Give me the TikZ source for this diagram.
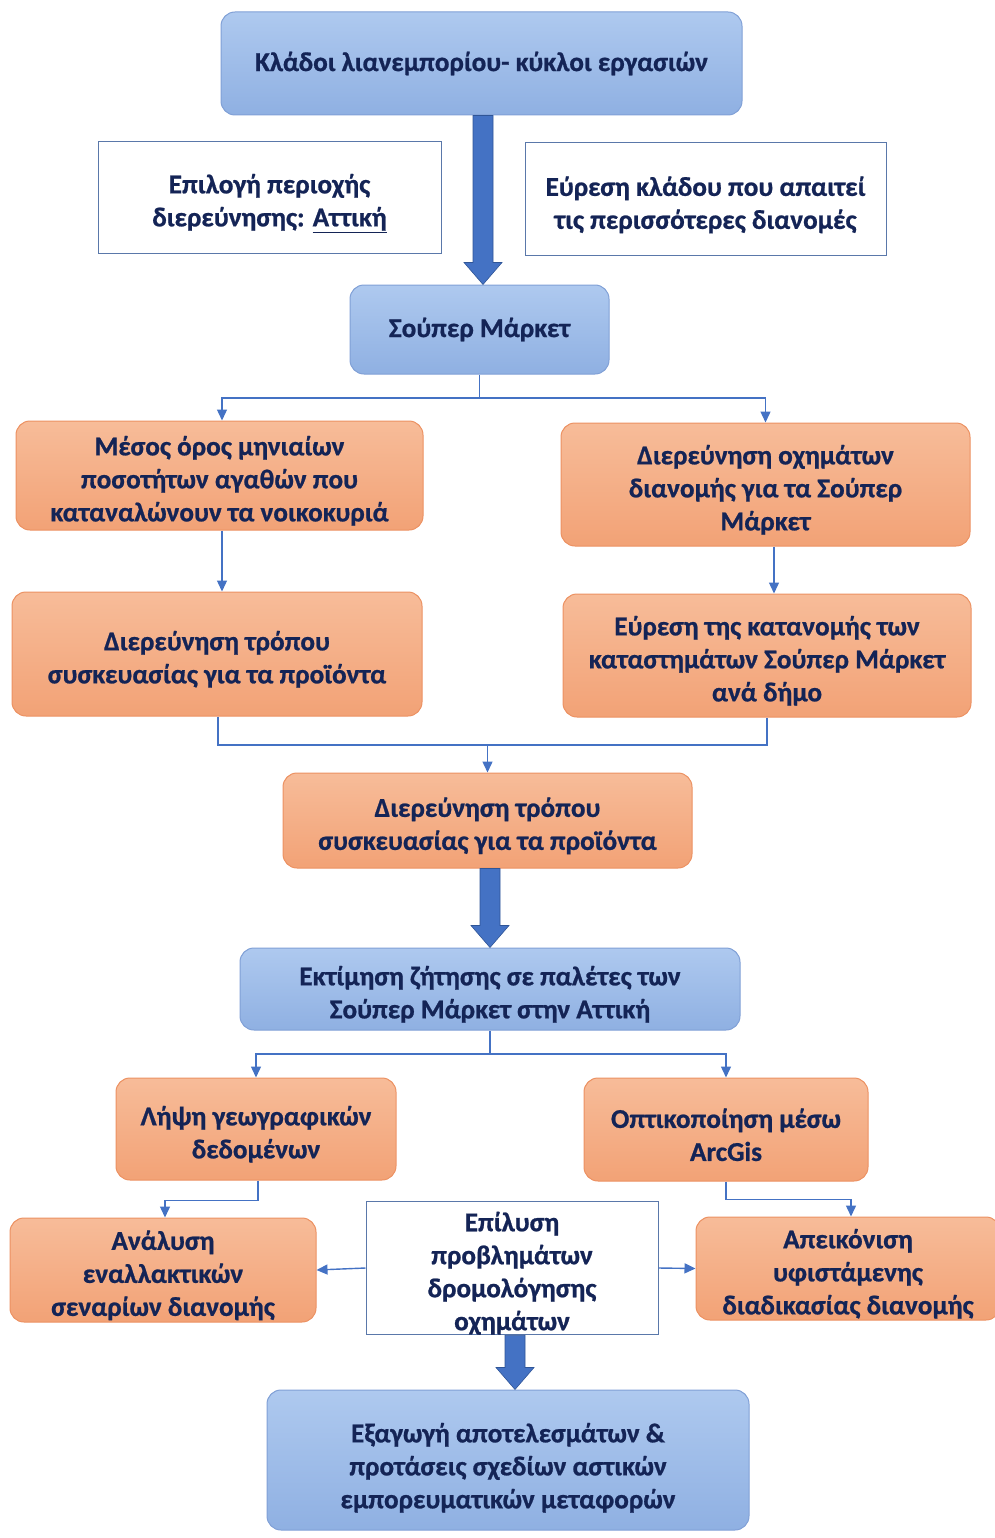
\documentclass[tikz,border=0pt]{standalone}
\usepackage{fontspec}
\setmainfont{Carlito}[BoldFont={Carlito Bold}, BoldFeatures={FakeBold=0.8}]
\usetikzlibrary{arrows.meta,calc}

\definecolor{txt}{RGB}{20,36,86}
\definecolor{blueTop}{RGB}{174,201,239}
\definecolor{blueBot}{RGB}{143,176,226}
\definecolor{blueEdge}{RGB}{128,160,214}
\definecolor{orTop}{RGB}{247,188,153}
\definecolor{orBot}{RGB}{242,162,118}
\definecolor{orEdge}{RGB}{236,145,98}
\definecolor{link}{RGB}{68,114,196}
\definecolor{linkDark}{RGB}{47,85,151}
\definecolor{boxEdge}{RGB}{90,120,170}

% extra room above the first line of a multi-line label
\newcommand{\fs}{\rule{0pt}{30pt}}
\newcommand{\fsbig}{\rule{0pt}{35pt}}

\tikzset{
  base/.style={align=center, text=txt, font=\bfseries\fontsize{27.2}{33}\selectfont,
    inner sep=0pt},
  bluebox/.style={base, rounded corners=14pt, draw=blueEdge, line width=1pt,
    top color=blueTop, bottom color=blueBot},
  orbox/.style={base, rounded corners=14pt, draw=orEdge, line width=1pt,
    top color=orTop, bottom color=orBot},
  whitebox/.style={base, draw=boxEdge, line width=1pt, fill=white},
  conn/.style={draw=link, line width=1.4pt},
  tip/.style={conn, -{Triangle[width=10pt,length=11pt]}},
  bigarrow/.style={fill=link, draw=linkDark, line width=0.6pt},
}

% thick block arrow from the bottom of one node to the top of another
\newcommand{\blockarrow}[3][0]{%
  \path[bigarrow] let \p1=($(#2.south)+(#1,0)$), \p2=(#3.north) in
    (\x1-10pt,\y1) -- (\x1-10pt,\y2+22pt) -- (\x1-19pt,\y2+22pt) --
    (\x1,\y2) -- (\x1+19pt,\y2+22pt) -- (\x1+10pt,\y2+22pt) --
    (\x1+10pt,\y1) -- cycle;}

\begin{document}
\begin{tikzpicture}[x=1pt,y=-1pt]
\useasboundingbox (0,0) rectangle (995,1538);

% upper part
\node[bluebox, minimum width=521pt, minimum height=103pt] (top) at (481.5,63.5)
  {Κλάδοι λιανεμπορίου- κύκλοι εργασιών};
\node[whitebox, minimum width=343pt, minimum height=112pt] (selL) at (269.5,198)
  {\fs Επιλογή περιοχής\\διερεύνησης: \underline{Αττική}};
\node[whitebox, minimum width=361pt, minimum height=113pt] (selR) at (705.5,199.5)
  {\fs Εύρεση κλάδου που απαιτεί\\τις περισσότερες διανομές};
\node[bluebox, minimum width=259pt, minimum height=89pt] (sm) at (479.5,329.5)
  {Σούπερ Μάρκετ};

% two branches
\node[orbox, minimum width=407pt, minimum height=109pt] (L1) at (219.5,475.5)
  {\fs Μέσος όρος μηνιαίων\\ποσοτήτων αγαθών που\\καταναλώνουν τα νοικοκυριά};
\node[orbox, minimum width=409pt, minimum height=123pt] (R1) at (765.5,484.5)
  {\fs Διερεύνηση οχημάτων\\διανομής για τα Σούπερ\\Μάρκετ};
\node[orbox, minimum width=410pt, minimum height=124pt] (L2) at (217,654)
  {\fs Διερεύνηση τρόπου\\συσκευασίας για τα προϊόντα};
\node[orbox, minimum width=408pt, minimum height=123pt] (R2) at (767,655.5)
  {\fs Εύρεση της κατανομής των\\καταστημάτων Σούπερ Μάρκετ\\ανά δήμο};
\node[orbox, minimum width=409pt, minimum height=95pt] (M) at (487.5,820.5)
  {\fs Διερεύνηση τρόπου\\συσκευασίας για τα προϊόντα};

% demand estimate and its follow-ups
\node[bluebox, minimum width=500pt, minimum height=82pt] (est) at (490,989)
  {\fs Εκτίμηση ζήτησης σε παλέτες των\\Σούπερ Μάρκετ στην Αττική};
\node[orbox, minimum width=280pt, minimum height=102pt] (geo) at (256,1129)
  {\fs Λήψη γεωγραφικών\\δεδομένων};
\node[orbox, minimum width=284pt, minimum height=103pt] (arc) at (726,1129.5)
  {\fs Οπτικοποίηση μέσω\\ArcGis};
\node[orbox, minimum width=306pt, minimum height=104pt] (alt) at (163,1270)
  {\fs Ανάλυση\\εναλλακτικών\\σεναρίων διανομής};
\node[orbox, minimum width=304pt, minimum height=103pt] (cur) at (848,1268.5)
  {\fs Απεικόνιση\\υφιστάμενης\\διαδικασίας διανομής};
\node[whitebox, minimum width=292pt, minimum height=130pt] (vrp) at (512,1268)
  {\fs Επίλυση\\προβλημάτων\\δρομολόγησης\\οχημάτων};
\node[bluebox, minimum width=482pt, minimum height=140pt] (out) at (508,1460)
  {\fsbig Εξαγωγή αποτελεσμάτων \&\\προτάσεις σχεδίων αστικών\\εμπορευματικών μεταφορών};

% block arrows
\blockarrow[1.5]{top}{sm}
\blockarrow[2.5]{M}{est}
\blockarrow[3]{vrp}{out}

% thin connectors
\coordinate (j1) at (sm.south |- 0,398);
\draw[conn] (sm.south) -- (j1);
\draw[tip] (j1) -| ($(L1.north)+(2.5,0)$);
\draw[tip] (j1) -| (R1.north);
\draw[tip] ($(L1.south)+(2.5,0)$) -- ($(L2.north)+(5,0)$);
\draw[tip] ($(R1.south)+(8.5,0)$) -- ($(R2.north)+(7,0)$);

\coordinate (j2) at (M.north |- 0,745);
\draw[conn] ($(L2.south)+(1,0)$) |- (j2) -| (R2.south);
\draw[tip] (j2) -- (M.north);

\coordinate (j3) at (est.south |- 0,1054);
\draw[conn] (est.south) -- (j3);
\draw[tip] (j3) -| (geo.north);
\draw[tip] (j3) -| (arc.north);

\draw[tip] ($(geo.south)+(2,0)$) -- ++(0,20) -| ($(alt.north)+(2,0)$);
\draw[tip] (arc.south) -- ++(0,18) -| ($(cur.north)+(3,0)$);

\draw[tip] (vrp.west) -- (alt.east);
\draw[tip] (vrp.east) -- (cur.west);
\end{tikzpicture}
\end{document}
